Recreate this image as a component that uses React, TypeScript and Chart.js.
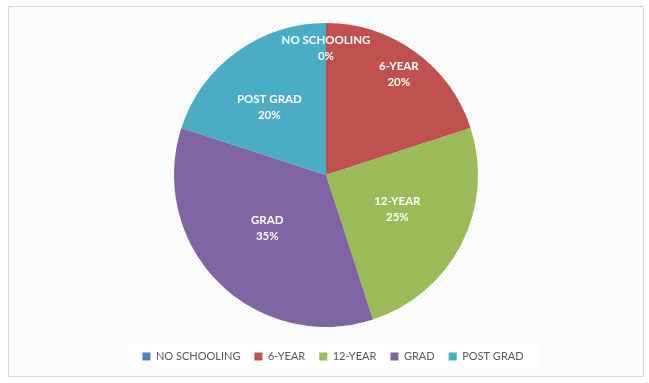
import React, { useEffect, useRef } from "react";
import { Chart, registerables } from "chart.js";

Chart.register(...registerables);

const categories = ["NO SCHOOLING", "6-YEAR", "12-YEAR", "GRAD", "POST GRAD"];
const values = [0, 20, 25, 35, 20];
const colors = ["#4F81BD", "#C0504D", "#9BBB59", "#8064A2", "#4BACC6"];
const labelRadiusFraction = [0.835, 0.815, 0.52, 0.52, 0.58];
const labelAngleShift = [0, 0, -1.5, 3, -4];

const bgPlugin = {
  id: "bgPlugin",
  afterLayout(chart: any) {
    const lg = chart.legend;
    if (lg) {
      lg.left += 7;
      lg.right += 7;
    }
  },
  beforeDraw(chart: any) {
    const { ctx, width, height } = chart;
    ctx.save();
    ctx.fillStyle = "#ffffff";
    ctx.fillRect(0, 0, width, height);
    ctx.beginPath();
    ctx.rect(9, 7, 634, 369);
    ctx.clip();
    ctx.strokeStyle = "#f1f1f1";
    ctx.lineWidth = 1;
    for (let k = -height; k < width + height; k += 4) {
      ctx.beginPath();
      ctx.moveTo(k, 0);
      ctx.lineTo(k + height, height);
      ctx.stroke();
    }
    ctx.restore();
    ctx.save();
    ctx.strokeStyle = "#d9d9d9";
    ctx.lineWidth = 1;
    ctx.strokeRect(8.5, 6.5, 635, 370);
    const lg = chart.legend;
    if (lg && lg.legendHitBoxes && lg.legendHitBoxes.length) {
      const boxes = lg.legendHitBoxes;
      const minX = Math.min(...boxes.map((b: any) => b.left));
      const maxX = Math.max(...boxes.map((b: any) => b.left + b.width));
      const minY = Math.min(...boxes.map((b: any) => b.top));
      const maxY = Math.max(...boxes.map((b: any) => b.top + b.height));
      ctx.fillStyle = "#ffffff";
      ctx.fillRect(minX - 14, minY - 7, maxX - minX + 28, maxY - minY + 14);
    }
    ctx.restore();
  },
};

const labelPlugin = {
  id: "labelPlugin",
  afterDatasetsDraw(chart: any) {
    const { ctx } = chart;
    const meta = chart.getDatasetMeta(0);
    const total = values.reduce((a, b) => a + b, 0);
    ctx.save();
    ctx.fillStyle = "#ffffff";
    ctx.font = "bold 11.5px Lato, 'Liberation Sans', sans-serif";
    ctx.textAlign = "center";
    ctx.textBaseline = "middle";
    meta.data.forEach((arc: any, i: number) => {
      const p = arc.getProps(["x", "y", "startAngle", "endAngle", "outerRadius"], true);
      const mid = (p.startAngle + p.endAngle) / 2 + (labelAngleShift[i] * Math.PI) / 180;
      const r = p.outerRadius * labelRadiusFraction[i];
      const x = p.x + Math.cos(mid) * r;
      const y = p.y + Math.sin(mid) * r;
      const pct = Math.round((values[i] / total) * 100) + "%";
      ctx.fillText(categories[i], x, y - 8);
      ctx.fillText(pct, x, y + 8);
    });
    ctx.restore();
  },
};

export default function App() {
  const ref = useRef<HTMLCanvasElement>(null);
  useEffect(() => {
    document.body.style.margin = "0";
    const chart = new Chart(ref.current as HTMLCanvasElement, {
      type: "pie",
      data: {
        labels: categories,
        datasets: [
          {
            data: values,
            backgroundColor: colors,
            borderWidth: 0,
            radius: 152,
          } as any,
        ],
      },
      options: {
        animation: false,
        responsive: false,
        layout: { padding: { top: 13, bottom: 11, left: 10, right: 7 } },
        plugins: {
          tooltip: { enabled: false },
          legend: {
            position: "bottom",
            labels: {
              boxWidth: 8,
              boxHeight: 8,
              padding: 14,
              color: "#595959",
              font: { family: "Lato, 'Liberation Sans', sans-serif", size: 11 },
            },
          },
        },
      },
      plugins: [bgPlugin, labelPlugin],
    });
    return () => chart.destroy();
  }, []);
  return (
    <div style={{ width: 649, height: 383 }}>
      <canvas ref={ref} width={649} height={383} style={{ display: "block" }} />
    </div>
  );
}
